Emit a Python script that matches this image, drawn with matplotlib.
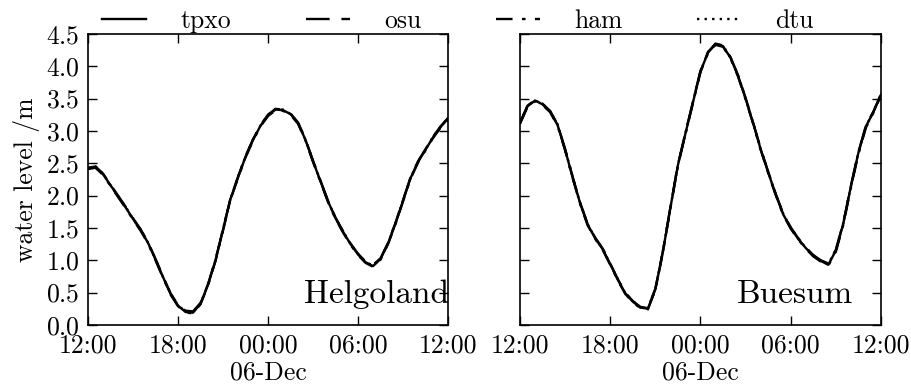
import datetime as dt
import numpy as np
import matplotlib
matplotlib.use("Agg")
import matplotlib.pyplot as plt
import matplotlib.dates as mdates

plt.rcParams['font.family'] = 'serif'
plt.rcParams['font.serif'] = ['cmr10']
plt.rcParams['axes.formatter.use_mathtext'] = True
plt.rcParams['font.size'] = 18.5

# hours after 05-Dec 12:00, half-hourly
hours = [0.0, 0.5, 1.0, 1.5, 2.0, 2.5, 3.0, 3.5, 4.0, 4.5, 5.0, 5.5, 6.0, 6.5, 7.0, 7.5,
         8.0, 8.5, 9.0, 9.5, 10.0, 10.5, 11.0, 11.5, 12.0, 12.5, 13.0, 13.5, 14.0, 14.5,
         15.0, 15.5, 16.0, 16.5, 17.0, 17.5, 18.0, 18.5, 19.0, 19.5, 20.0, 20.5, 21.0,
         21.5, 22.0, 22.5, 23.0, 23.5, 24.0]

models = ['tpxo', 'osu', 'ham', 'dtu']

# Helgoland water level /m
helgo_tpxo = [2.42, 2.44, 2.33, 2.16, 1.99, 1.82, 1.64, 1.47, 1.27, 1.01, 0.74, 0.48, 0.30, 0.20,
              0.19, 0.33, 0.62, 1.00, 1.47, 1.95, 2.28, 2.60, 2.86, 3.08, 3.24, 3.33, 3.32, 3.26,
              3.12, 2.86, 2.53, 2.22, 1.91, 1.65, 1.44, 1.25, 1.09, 0.97, 0.91, 1.02, 1.26, 1.57,
              1.92, 2.27, 2.52, 2.71, 2.90, 3.06, 3.19]
helgo_osu = [2.43, 2.45, 2.34, 2.17, 2.00, 1.83, 1.65, 1.48, 1.28, 1.02, 0.75, 0.49, 0.31, 0.22,
             0.21, 0.34, 0.63, 1.01, 1.48, 1.96, 2.29, 2.61, 2.87, 3.09, 3.25, 3.34, 3.33, 3.27,
             3.13, 2.87, 2.54, 2.23, 1.92, 1.66, 1.45, 1.26, 1.10, 0.98, 0.93, 1.03, 1.27, 1.58,
             1.93, 2.28, 2.53, 2.72, 2.91, 3.07, 3.20]
helgo_ham = [2.41, 2.43, 2.32, 2.15, 1.98, 1.81, 1.63, 1.46, 1.26, 1.00, 0.73, 0.47, 0.29, 0.19,
             0.18, 0.32, 0.61, 0.99, 1.46, 1.94, 2.27, 2.59, 2.85, 3.07, 3.23, 3.32, 3.31, 3.25,
             3.11, 2.85, 2.52, 2.21, 1.90, 1.64, 1.43, 1.24, 1.08, 0.96, 0.90, 1.01, 1.25, 1.56,
             1.91, 2.26, 2.51, 2.70, 2.89, 3.05, 3.18]
helgo_dtu = [2.42, 2.45, 2.34, 2.16, 1.99, 1.83, 1.64, 1.48, 1.27, 1.02, 0.74, 0.49, 0.30, 0.21,
             0.20, 0.33, 0.63, 1.00, 1.48, 1.95, 2.29, 2.60, 2.87, 3.08, 3.25, 3.34, 3.33, 3.26,
             3.13, 2.86, 2.54, 2.22, 1.92, 1.65, 1.45, 1.25, 1.10, 0.97, 0.92, 1.02, 1.27, 1.57,
             1.93, 2.27, 2.53, 2.71, 2.91, 3.06, 3.20]

# Buesum water level /m
buesum_tpxo = [3.12, 3.38, 3.47, 3.41, 3.30, 3.09, 2.71, 2.28, 1.88, 1.55, 1.34, 1.17, 0.94, 0.70,
               0.49, 0.36, 0.27, 0.25, 0.55, 1.13, 1.81, 2.47, 2.96, 3.44, 3.92, 4.21, 4.34, 4.31,
               4.13, 3.85, 3.50, 3.12, 2.72, 2.36, 2.02, 1.71, 1.50, 1.33, 1.19, 1.07, 0.99, 0.93,
               1.15, 1.57, 2.14, 2.66, 3.07, 3.29, 3.56]
buesum_osu = [3.13, 3.39, 3.48, 3.42, 3.31, 3.10, 2.72, 2.29, 1.89, 1.56, 1.35, 1.18, 0.95, 0.71,
              0.50, 0.37, 0.28, 0.26, 0.56, 1.14, 1.82, 2.48, 2.97, 3.45, 3.93, 4.22, 4.35, 4.32,
              4.14, 3.86, 3.51, 3.13, 2.73, 2.37, 2.03, 1.72, 1.51, 1.34, 1.20, 1.08, 1.00, 0.95,
              1.16, 1.58, 2.15, 2.67, 3.08, 3.30, 3.57]
buesum_ham = [3.11, 3.37, 3.46, 3.40, 3.29, 3.08, 2.70, 2.27, 1.87, 1.54, 1.33, 1.16, 0.93, 0.69,
              0.48, 0.35, 0.26, 0.24, 0.54, 1.12, 1.80, 2.46, 2.95, 3.43, 3.91, 4.20, 4.33, 4.30,
              4.12, 3.84, 3.49, 3.11, 2.71, 2.35, 2.01, 1.70, 1.49, 1.32, 1.18, 1.06, 0.98, 0.92,
              1.13, 1.55, 2.12, 2.64, 3.05, 3.28, 3.55]
buesum_dtu = [3.12, 3.39, 3.47, 3.42, 3.30, 3.10, 2.71, 2.29, 1.88, 1.56, 1.34, 1.18, 0.94, 0.71,
              0.49, 0.37, 0.27, 0.26, 0.55, 1.14, 1.81, 2.48, 2.96, 3.45, 3.92, 4.22, 4.34, 4.32,
              4.13, 3.86, 3.50, 3.13, 2.72, 2.37, 2.02, 1.72, 1.50, 1.34, 1.19, 1.08, 0.99, 0.94,
              1.16, 1.58, 2.14, 2.67, 3.07, 3.30, 3.56]

stations = ['Helgoland', 'Buesum']
series = {
    'Helgoland': [helgo_tpxo, helgo_osu, helgo_ham, helgo_dtu],
    'Buesum': [buesum_tpxo, buesum_osu, buesum_ham, buesum_dtu],
}

start = dt.datetime(2013, 12, 5, 12, 0)
times = [start + dt.timedelta(hours=h) for h in hours]

styles = [dict(linestyle='-'),
          dict(dashes=(10, 5)),
          dict(dashes=(7, 4, 1.5, 4)),
          dict(dashes=(1.0, 2.2))]

fig = plt.figure(figsize=(9.11, 3.85), dpi=100)
ax1 = fig.add_axes([0.0966, 0.156, 0.3952, 0.756])
ax2 = fig.add_axes([0.5708, 0.156, 0.3962, 0.756], sharey=ax1)

for ax, st in zip([ax1, ax2], stations):
    for name, vals, sty in zip(models, series[st], styles):
        ax.plot(times, vals, color='k', lw=1.7, label=name, **sty)
    ax.set_xlim(start, start + dt.timedelta(hours=24))
    ax.xaxis.set_major_locator(mdates.HourLocator(byhour=[0, 6, 12, 18]))
    ax.xaxis.set_major_formatter(mdates.DateFormatter('%H:%M'))
    ax.set_xlabel('06-Dec', labelpad=3)
    ax.tick_params(direction='in', top=True, right=True, length=6.5, width=1, pad=6)
    for sp in ax.spines.values():
        sp.set_linewidth(1.2)
    ax.text(0.6, 0.076, st, transform=ax.transAxes, fontsize=24, ha='left', va='baseline')

ax1.set_ylim(0, 4.5)
ax1.set_yticks(np.arange(0, 4.51, 0.5))
ax1.set_ylabel('water level /m')
plt.setp(ax2.get_yticklabels(), visible=False)

handles, labels = ax1.get_legend_handles_labels()
fig.legend(handles, labels, loc='upper center', bbox_to_anchor=(0.503, 1.035), ncol=4,
           frameon=False, handlelength=1.7, handletextpad=1.35, columnspacing=2.9)

fig.savefig('out.png', dpi=100)
